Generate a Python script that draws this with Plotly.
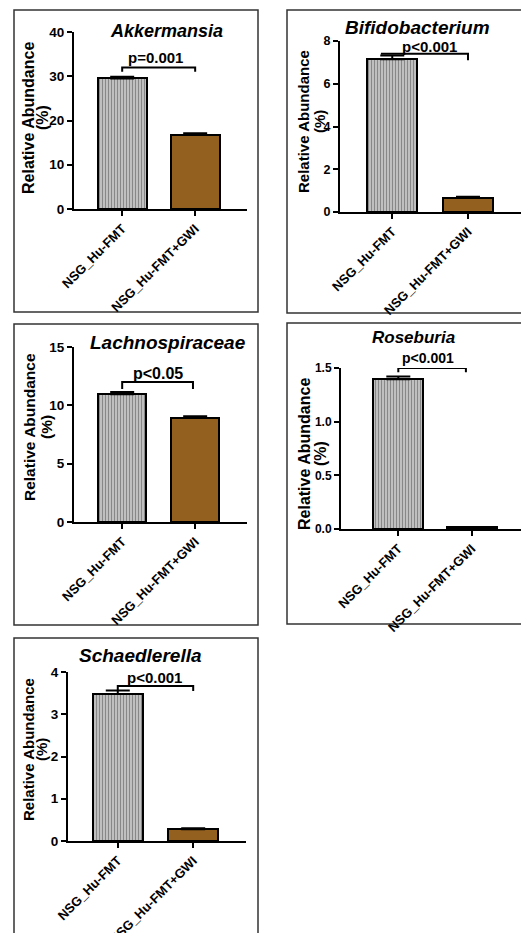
import plotly.graph_objects as go

# ---------------- data ----------------
categories = ["NSG_Hu-FMT", "NSG_Hu-FMT+GWI"]
taxa = ["Akkermansia", "Bifidobacterium", "Lachnospiraceae", "Roseburia", "Schaedlerella"]
means_akk = [29.5, 16.8]
means_bif = [7.15, 0.66]
means_lac = [10.95, 8.95]
means_ros = [1.395, 0.015]
means_sch = [3.48, 0.28]
sem_akk = [0.4, 0.3]
sem_bif = [0.17, 0.05]
sem_lac = [0.2, 0.12]
sem_ros = [0.025, 0.004]
sem_sch = [0.08, 0.02]
p_labels = ["p=0.001", "p<0.001", "p<0.05", "p<0.001", "p<0.001"]
y_title_lines = ["Relative Abundance", "(%)"]
y_max = [40, 8, 15, 1.5, 4]
y_dtick = [10, 2, 5, 0.5, 1]
# significance brackets: (left x, right x, bar height, left foot, right foot)
bracket_akk = [0.0, 1.0, 32.0, 31.0, 31.0]
bracket_bif = [-0.15, 1.0, 7.4, 7.4, 7.1]
bracket_lac = [0.0, 0.97, 12.0, 11.4, 11.4]
bracket_ros = [0.0, 0.92, 1.5, 1.46, 1.46]
bracket_sch = [0.0, 1.0, 3.67, 3.57, 3.55]

means = [means_akk, means_bif, means_lac, means_ros, means_sch]
sems = [sem_akk, sem_bif, sem_lac, sem_ros, sem_sch]
brackets = [bracket_akk, bracket_bif, bracket_lac, bracket_ros, bracket_sch]

# ---------------- layout (pixels) ----------------
W, H = 521, 933
panels = [
    dict(ax0=74, ax1=247, yt=32, yb=209, xr=[-0.66, 1.71], bw=0.67,
         box=[14, 10, 258, 312], title_xy=(166, 31), title_size=18,
         p_xy=(155, 57), p_size=15, yt_x=(28, 42), yt_y=118, yt_size=16, tick_size=13.5),
    dict(ax0=340, ax1=521, yt=41, yb=212, xr=[-0.69, 1.70], bw=0.66,
         box=[287, 10, 540, 313], title_xy=(417, 27), title_size=19,
         p_xy=(429, 47), p_size=15, yt_x=(304, 320), yt_y=122, yt_size=15, tick_size=12.5),
    dict(ax0=74, ax1=247, yt=347, yb=522, xr=[-0.66, 1.71], bw=0.66,
         box=[14, 324, 258, 625], title_xy=(168, 342), title_size=19,
         p_xy=(158, 374), p_size=16, yt_x=(30, 47), yt_y=427, yt_size=15.5, tick_size=13.5),
    dict(ax0=341, ax1=521, yt=368, yb=529, xr=[-0.78, 1.67], bw=0.68,
         box=[287, 323, 540, 624], title_xy=(413, 337), title_size=17,
         p_xy=(428, 358), p_size=14, yt_x=(304, 320), yt_y=454, yt_size=16, tick_size=12),
    dict(ax0=68, ax1=246, yt=672, yb=841, xr=[-0.66, 1.70], bw=0.66,
         box=[14, 638, 258, 955], title_xy=(140, 655), title_size=19,
         p_xy=(154, 677), p_size=15, yt_x=(28, 41), yt_y=750, yt_size=15, tick_size=13.5),
]

def px(x):
    return x / W

def py(y):
    return 1 - y / H

FONT = "Liberation Sans, Arial, sans-serif"
fig = go.Figure()
shapes = []
annotations = []

for i, p in enumerate(panels):
    n = "" if i == 0 else str(i + 1)
    xa, ya = "x" + n, "y" + n
    m, s, b = means[i], sems[i], brackets[i]
    xs = list(range(len(categories)))
    fig.add_trace(go.Bar(
        x=xs, y=m, width=p["bw"], xaxis=xa, yaxis=ya, showlegend=False,
        marker=dict(
            color=["#cccccc", "#93601f"],
            line=dict(color="black", width=2),
            pattern=dict(shape=["|", ""], fgcolor="#3a3a3a", size=3, solidity=0.45),
        ),
        error_y=dict(type="data", array=s, arrayminus=[0] * len(s), symmetric=False,
                     color="black", thickness=2, width=12),
        cliponaxis=False,
    ))
    fig.add_trace(go.Scatter(
        x=[b[0], b[0], b[1], b[1]], y=[b[3], b[2], b[2], b[4]],
        mode="lines", line=dict(color="black", width=2), xaxis=xa, yaxis=ya,
        showlegend=False, cliponaxis=False, hoverinfo="skip",
    ))
    axis_common = dict(showline=True, linecolor="black", linewidth=2,
                       ticks="outside", ticklen=5, tickwidth=2, tickcolor="black",
                       showgrid=False, zeroline=False, automargin=False)
    fig.update_layout(**{
        "xaxis" + n: dict(domain=[px(p["ax0"]), px(p["ax1"])], range=p["xr"],
                          anchor=ya, tickvals=xs, ticktext=categories, tickangle=-45,
                          tickfont=dict(family=FONT, size=13, color="black", weight="bold"),
                          **axis_common),
        "yaxis" + n: dict(domain=[py(p["yb"]), py(p["yt"])], range=[0, y_max[i]],
                          anchor=xa, dtick=y_dtick[i], tick0=0,
                          tickformat=".1f" if y_dtick[i] < 1 else "d",
                          tickfont=dict(family=FONT, size=p["tick_size"], color="black", weight="bold"),
                          **axis_common),
    })
    bx = p["box"]
    shapes.append(dict(type="rect", xref="paper", yref="paper",
                       x0=px(bx[0]), x1=px(bx[2]), y0=py(bx[3]), y1=py(bx[1]),
                       line=dict(color="#333333", width=1.5), fillcolor="rgba(0,0,0,0)",
                       layer="below"))
    annotations.append(dict(text=taxa[i], xref="paper", yref="paper",
                            x=px(p["title_xy"][0]), y=py(p["title_xy"][1]),
                            xanchor="center", yanchor="middle", showarrow=False,
                            font=dict(family=FONT, size=p["title_size"], color="black",
                                      weight="bold", style="italic")))
    annotations.append(dict(text=p_labels[i], xref="paper", yref="paper",
                            x=px(p["p_xy"][0]), y=py(p["p_xy"][1]),
                            xanchor="center", yanchor="middle", showarrow=False,
                            font=dict(family=FONT, size=p["p_size"], color="black", weight="bold")))
    for k, line in enumerate(y_title_lines):
        annotations.append(dict(text=line, xref="paper", yref="paper",
                                x=px(p["yt_x"][k]), y=py(p["yt_y"]), textangle=-90,
                                xanchor="center", yanchor="middle", showarrow=False,
                                font=dict(family=FONT, size=p["yt_size"], color="black", weight="bold")))

fig.update_layout(
    width=W, height=H, autosize=False,
    margin=dict(l=0, r=0, t=0, b=0, pad=0, autoexpand=False),
    paper_bgcolor="white", plot_bgcolor="rgba(0,0,0,0)",
    shapes=shapes, annotations=annotations, bargap=0,
)

fig.write_html("out.html")
